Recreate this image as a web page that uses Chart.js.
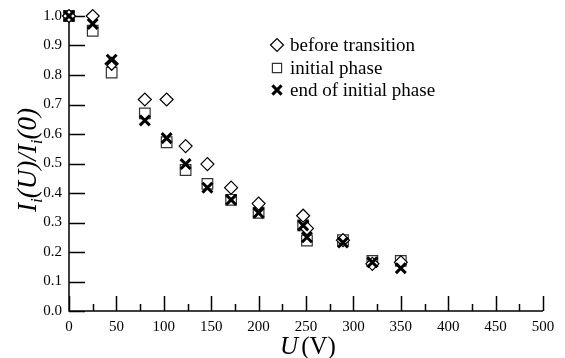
<!DOCTYPE html>
<html><head><meta charset="utf-8">
<script src="https://cdn.jsdelivr.net/npm/chart.js@4.4.0/dist/chart.umd.min.js"></script>
<style>html,body{margin:0;padding:0;background:#fff}#wrap{width:565px;height:358px}</style>
</head><body><div id="wrap"><canvas id="c" width="565" height="358"></canvas></div>
<script>
const voltages = [0, 25, 45, 80, 103, 123, 146, 171, 200, 247, 251, 289, 320, 350];
const beforeTransition = [1.0, 1.0, 0.838, 0.717, 0.717, 0.559, 0.498, 0.418, 0.364, 0.323, 0.28, 0.24, 0.16, 0.165];
const initialPhase =     [1.0, 0.95, 0.808, 0.67, 0.572, 0.478, 0.431, 0.377, 0.333, 0.29, 0.239, 0.24, 0.17, 0.17];
const endInitialPhase =  [1.0, 0.973, 0.852, 0.646, 0.586, 0.498, 0.418, 0.377, 0.333, 0.29, 0.25, 0.232, 0.165, 0.145];
const seriesNames = ['before transition', 'initial phase', 'end of initial phase'];
const xTickValues = [0,50,100,150,200,250,300,350,400,450,500];
const yTickValues = [0,0.1,0.2,0.3,0.4,0.5,0.6,0.7,0.8,0.9,1.0];

const pts = arr => arr.map((v,i)=>({x:voltages[i], y:v}));
const SERIF = '"Liberation Serif","DejaVu Serif",serif';

const styles = [
  {pointStyle:'rectRot', radius:6.5, borderColor:'#000', backgroundColor:'#fff', borderWidth:1.2, order:1},
  {pointStyle:'rect', radius:7.5, borderColor:'#333', backgroundColor:'#fff', borderWidth:1.2, order:2},
  {pointStyle:'crossRot', radius:7, borderColor:'#000', backgroundColor:'#000', borderWidth:3, order:0}
];

const axesPlugin = {
  id:'axesPlugin',
  beforeDatasetsDraw(chart){
    const ctx = chart.ctx, xs = chart.scales.x, ys = chart.scales.y;
    const x0 = xs.getPixelForValue(0), y0 = ys.getPixelForValue(0);
    const yTop = ys.getPixelForValue(1.0), xR = xs.getPixelForValue(500);
    ctx.save();
    ctx.strokeStyle='#000'; ctx.lineWidth=1.5;
    ctx.beginPath();
    ctx.moveTo(x0,yTop); ctx.lineTo(x0,y0); ctx.lineTo(xR,y0);
    yTickValues.forEach(v=>{const y=Math.round(ys.getPixelForValue(v))+0.5; ctx.moveTo(x0,y); ctx.lineTo(x0+16,y);});
    xTickValues.forEach(v=>{const x=Math.round(xs.getPixelForValue(v))+0.5; ctx.moveTo(x,y0); ctx.lineTo(x,y0-15);});
    for(let v=25; v<500; v+=50){const x=Math.round(xs.getPixelForValue(v))+0.5; ctx.moveTo(x,y0); ctx.lineTo(x,y0-7);}
    ctx.stroke();
    ctx.restore();
  },
  afterDraw(chart){
    const ctx = chart.ctx;
    ctx.save();
    // legend
    const lx = 277, ly = [45, 68, 90];
    ctx.font = '19px '+SERIF; ctx.textBaseline='middle'; ctx.textAlign='left';
    const legR = [6.5, 6.5, 6.5];
    chart.data.datasets.forEach((ds,i)=>{
      const s = styles[i];
      ctx.strokeStyle = s.borderColor; ctx.fillStyle = s.backgroundColor; ctx.lineWidth = s.borderWidth;
      Chart.helpers.drawPoint(ctx, {pointStyle:s.pointStyle, radius:legR[i], borderWidth:s.borderWidth}, lx, ly[i]);
      ctx.fillStyle='#000';
      ctx.fillText(seriesNames[i], lx+13, ly[i]+1);
    });
    // x title
    const xs = chart.scales.x;
    const cx = (xs.left+xs.right)/2 + 2;
    ctx.textBaseline='alphabetic';
    ctx.font = 'italic 25px '+SERIF; const wU = ctx.measureText('U').width;
    ctx.font = '25px '+SERIF; const wV = ctx.measureText('(V)').width;
    const tot = wU + 3 + wV; let sx = cx - tot/2;
    ctx.font = 'italic 25px '+SERIF; ctx.fillText('U', sx, 354);
    ctx.font = '25px '+SERIF; ctx.fillText('(V)', sx+wU+3, 354);
    // y title
    ctx.translate(36, 160); ctx.rotate(-Math.PI/2);
    const parts = [['I',27,0],['i',17,6],['(U)/',27,0],['I',27,0],['i',17,6],['(0)',27,0]];
    let w=0; parts.forEach(p=>{ctx.font='italic '+p[1]+'px '+SERIF; w+=ctx.measureText(p[0]).width;});
    let px=-w/2;
    parts.forEach(p=>{ctx.font='italic '+p[1]+'px '+SERIF; ctx.fillText(p[0],px,p[2]); px+=ctx.measureText(p[0]).width;});
    ctx.restore();
  }
};

new Chart(document.getElementById('c'), {
  type:'scatter',
  data:{datasets:[
    Object.assign({label:seriesNames[0], data:pts(beforeTransition)}, styles[0]),
    Object.assign({label:seriesNames[1], data:pts(initialPhase)}, styles[1]),
    Object.assign({label:seriesNames[2], data:pts(endInitialPhase)}, styles[2])
  ].map(d=>Object.assign(d,{pointRadius:d.radius, pointHoverRadius:d.radius, clip:false}))},
  options:{
    responsive:false, animation:false, devicePixelRatio:1,
    layout:{padding:{top:14,right:22,left:0,bottom:0}},
    plugins:{legend:{display:false}, tooltip:{enabled:false}},
    scales:{
      x:{type:'linear', min:0, max:500, border:{display:false}, grid:{display:false, drawTicks:false, tickLength:0},
         afterBuildTicks:s=>{s.ticks = xTickValues.map(v=>({value:v}));},
         afterFit:s=>{s.height=47;},
         ticks:{color:'#000', font:{family:SERIF, size:15}, padding:7, maxRotation:0, autoSkip:false}},
      y:{type:'linear', min:0, max:1.0, border:{display:false}, grid:{display:false, drawTicks:false, tickLength:0},
         afterBuildTicks:s=>{s.ticks = yTickValues.map(v=>({value:v}));},
         afterFit:s=>{s.width=69;},
         ticks:{color:'#000', font:{family:SERIF, size:15}, padding:7, callback:v=>v.toFixed(1), autoSkip:false}}
    }
  },
  plugins:[axesPlugin]
});
</script></body></html>
